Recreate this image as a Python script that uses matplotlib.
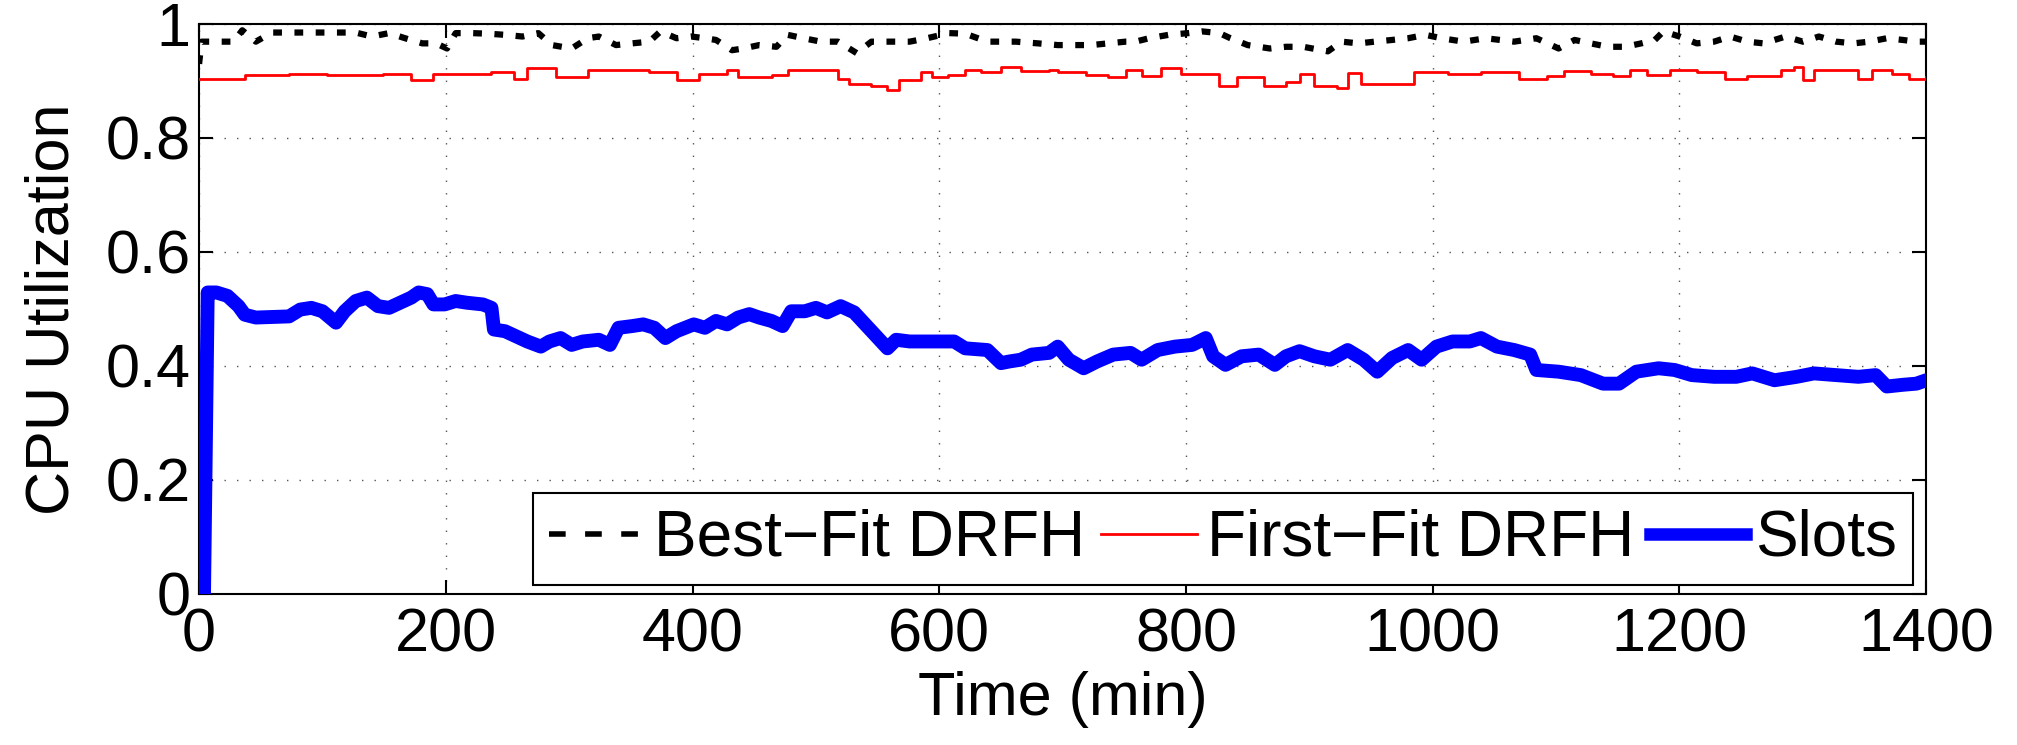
import numpy as np
import matplotlib
matplotlib.use("Agg")
import matplotlib.pyplot as plt
from matplotlib.lines import Line2D

# -------------------------------------------------------
# Data
# -------------------------------------------------------

slots_t = [4, 7, 14, 23, 32, 37, 46, 59, 73, 82, 91, 100, 111, 118, 127, 136, 145,
           154, 163, 172, 178, 185, 190, 199, 208, 217, 230, 237, 239, 248, 257, 266,
           277, 284, 293, 302, 311, 324, 333, 340, 351, 360, 369, 378, 387, 401, 410,
           419, 428, 437, 446, 454, 464, 473, 480, 491, 500, 509, 520, 531, 540, 549,
           558, 565, 576, 594, 612, 621, 639, 650, 657, 666, 675, 689, 696, 705, 717,
           728, 741, 755, 764, 777, 791, 805, 816, 822, 832, 845, 859, 872, 881, 892,
           904, 917, 931, 944, 955, 967, 980, 991, 1003, 1016, 1030, 1039, 1052, 1066,
           1079, 1084, 1102, 1120, 1138, 1151, 1165, 1183, 1196, 1210, 1228, 1246,
           1259, 1277, 1295, 1309, 1327, 1345, 1359, 1368, 1381, 1392, 1400]
slots_v = [0.0, 0.529, 0.529, 0.523, 0.505, 0.490, 0.485, 0.486, 0.487, 0.499, 0.502,
           0.496, 0.476, 0.496, 0.514, 0.520, 0.505, 0.502, 0.511, 0.520, 0.529, 0.526,
           0.508, 0.508, 0.514, 0.511, 0.508, 0.502, 0.464, 0.461, 0.452, 0.443, 0.434,
           0.443, 0.449, 0.437, 0.443, 0.446, 0.437, 0.467, 0.470, 0.473, 0.467, 0.449,
           0.461, 0.473, 0.467, 0.479, 0.473, 0.485, 0.491, 0.485, 0.479, 0.470, 0.496,
           0.496, 0.502, 0.494, 0.505, 0.494, 0.473, 0.452, 0.431, 0.446, 0.443, 0.443,
           0.443, 0.431, 0.428, 0.405, 0.408, 0.411, 0.420, 0.423, 0.434, 0.411, 0.396,
           0.408, 0.420, 0.423, 0.411, 0.428, 0.434, 0.437, 0.449, 0.417, 0.402, 0.417,
           0.420, 0.402, 0.417, 0.426, 0.417, 0.411, 0.428, 0.411, 0.390, 0.414, 0.428,
           0.411, 0.434, 0.443, 0.443, 0.449, 0.434, 0.428, 0.420, 0.393, 0.390, 0.384,
           0.369, 0.369, 0.390, 0.396, 0.393, 0.384, 0.381, 0.381, 0.387, 0.375, 0.381,
           0.387, 0.384, 0.381, 0.384, 0.364, 0.367, 0.369, 0.375]

first_t = [0, 32, 37, 73, 104, 149, 172, 190, 217, 237, 255, 266, 289, 298, 315, 338,
           365, 387, 405, 428, 437, 464, 477, 500, 518, 527, 545, 558, 567, 585, 594,
           607, 621, 634, 650, 666, 689, 696, 719, 737, 751, 764, 780, 796, 814, 827,
           841, 863, 881, 892, 904, 922, 931, 942, 962, 985, 1012, 1039, 1070, 1093,
           1106, 1128, 1146, 1160, 1174, 1192, 1214, 1237, 1255, 1282, 1293, 1300, 1309,
           1332, 1345, 1356, 1372, 1386, 1400]
first_v = [0.904, 0.904, 0.910, 0.913, 0.910, 0.913, 0.902, 0.913, 0.912, 0.916, 0.904,
           0.922, 0.907, 0.907, 0.920, 0.919, 0.916, 0.901, 0.913, 0.920, 0.907, 0.910,
           0.920, 0.919, 0.904, 0.894, 0.891, 0.885, 0.901, 0.916, 0.907, 0.910, 0.919,
           0.916, 0.924, 0.918, 0.919, 0.916, 0.910, 0.907, 0.919, 0.908, 0.922, 0.913,
           0.913, 0.891, 0.907, 0.891, 0.898, 0.912, 0.891, 0.888, 0.914, 0.895, 0.894,
           0.916, 0.912, 0.916, 0.904, 0.908, 0.918, 0.913, 0.908, 0.919, 0.910, 0.920,
           0.916, 0.904, 0.908, 0.919, 0.924, 0.902, 0.920, 0.919, 0.904, 0.920, 0.913,
           0.904, 0.907]

best_t = [0, 2, 28, 35, 46, 59, 95, 109, 127, 140, 154, 167, 181, 192, 201, 208, 221,
          234, 248, 262, 275, 286, 302, 315, 324, 338, 351, 365, 374, 387, 399, 410, 419,
          432, 441, 454, 468, 477, 490, 504, 518, 533, 545, 563, 576, 590, 608, 621, 639,
          662, 680, 696, 723, 737, 751, 759, 770, 786, 802, 813, 827, 836, 850, 868, 881,
          895, 915, 926, 940, 953, 967, 980, 994, 1007, 1025, 1043, 1066, 1084, 1102,
          1115, 1128, 1142, 1156, 1169, 1180, 1187, 1200, 1214, 1228, 1241, 1255, 1268,
          1286, 1300, 1313, 1327, 1341, 1354, 1368, 1381, 1392, 1400]
best_v = [0.930, 0.969, 0.969, 0.989, 0.969, 0.985, 0.985, 0.985, 0.985, 0.978, 0.984,
          0.975, 0.966, 0.966, 0.957, 0.984, 0.984, 0.983, 0.981, 0.978, 0.984, 0.963,
          0.957, 0.975, 0.978, 0.963, 0.966, 0.969, 0.987, 0.975, 0.978, 0.975, 0.972,
          0.954, 0.957, 0.963, 0.960, 0.981, 0.975, 0.969, 0.969, 0.949, 0.969, 0.969,
          0.969, 0.975, 0.984, 0.983, 0.969, 0.969, 0.966, 0.963, 0.963, 0.966, 0.969,
          0.969, 0.975, 0.981, 0.984, 0.987, 0.984, 0.975, 0.963, 0.957, 0.960, 0.960,
          0.952, 0.969, 0.966, 0.969, 0.972, 0.975, 0.981, 0.975, 0.969, 0.975, 0.969,
          0.975, 0.957, 0.972, 0.966, 0.960, 0.960, 0.966, 0.972, 0.987, 0.978, 0.966,
          0.969, 0.978, 0.969, 0.966, 0.978, 0.969, 0.978, 0.969, 0.966, 0.969, 0.975,
          0.972, 0.969, 0.969]

x_ticks = [0, 200, 400, 600, 800, 1000, 1200, 1400]
y_ticks = [0, 0.2, 0.4, 0.6, 0.8, 1.0]
y_tick_labels = ["0", "0.2", "0.4", "0.6", "0.8", "1"]

labels = ["Best\u2212Fit DRFH", "First\u2212Fit DRFH", "Slots"]

# -------------------------------------------------------
# Plot
# -------------------------------------------------------

plt.rcParams["font.family"] = ["Liberation Sans", "DejaVu Sans"]
FS = 44

fig = plt.figure(figsize=(20.17, 7.45), dpi=100)
ax = fig.add_axes([0.0987, 0.2027, 0.8563, 0.7651])

ax.plot(best_t, best_v, color="black", lw=4.5, dashes=(1.4, 2.0), zorder=3)
ax.plot(first_t, first_v, color="red", lw=2, drawstyle="steps-post", zorder=3)
ax.plot(slots_t, slots_v, color="blue", lw=10, solid_capstyle="round",
        solid_joinstyle="round", zorder=3)

ax.set_xlim(0, 1400)
ax.set_ylim(0, 1)
ax.set_xticks(x_ticks)
ax.set_yticks(y_ticks)
ax.set_yticklabels(y_tick_labels)

ax.grid(True, color="#555555", linestyle=(0, (1, 8)), linewidth=1)
ax.tick_params(direction="in", length=10, width=1.5, labelsize=FS,
               top=True, right=True, pad=6)
ax.tick_params(axis="x", pad=10)
for s in ax.spines.values():
    s.set_linewidth(1.5)

ax.set_xlabel("Time (min)", fontsize=FS)
ax.set_ylabel("CPU Utilization", fontsize=FS)
ax.xaxis.set_label_coords(0.5, -0.135)
ax.yaxis.set_label_coords(-0.068, 0.5)

handles = [
    Line2D([], [], color="black", lw=4, dashes=(3, 3.5)),
    Line2D([], [], color="red", lw=2),
    Line2D([], [], color="blue", lw=9),
]
leg = ax.legend(handles, labels, loc="lower right", bbox_to_anchor=(0.9925, 0.016),
                ncol=3, fontsize=46, frameon=True, fancybox=False,
                handlelength=1.5, handletextpad=0.15, columnspacing=0.25,
                borderpad=0.25, borderaxespad=0)
leg.get_frame().set_edgecolor("black")
leg.get_frame().set_linewidth(1.5)
leg.get_frame().set_alpha(1)

plt.savefig("out.png", dpi=100)
plt.close()
